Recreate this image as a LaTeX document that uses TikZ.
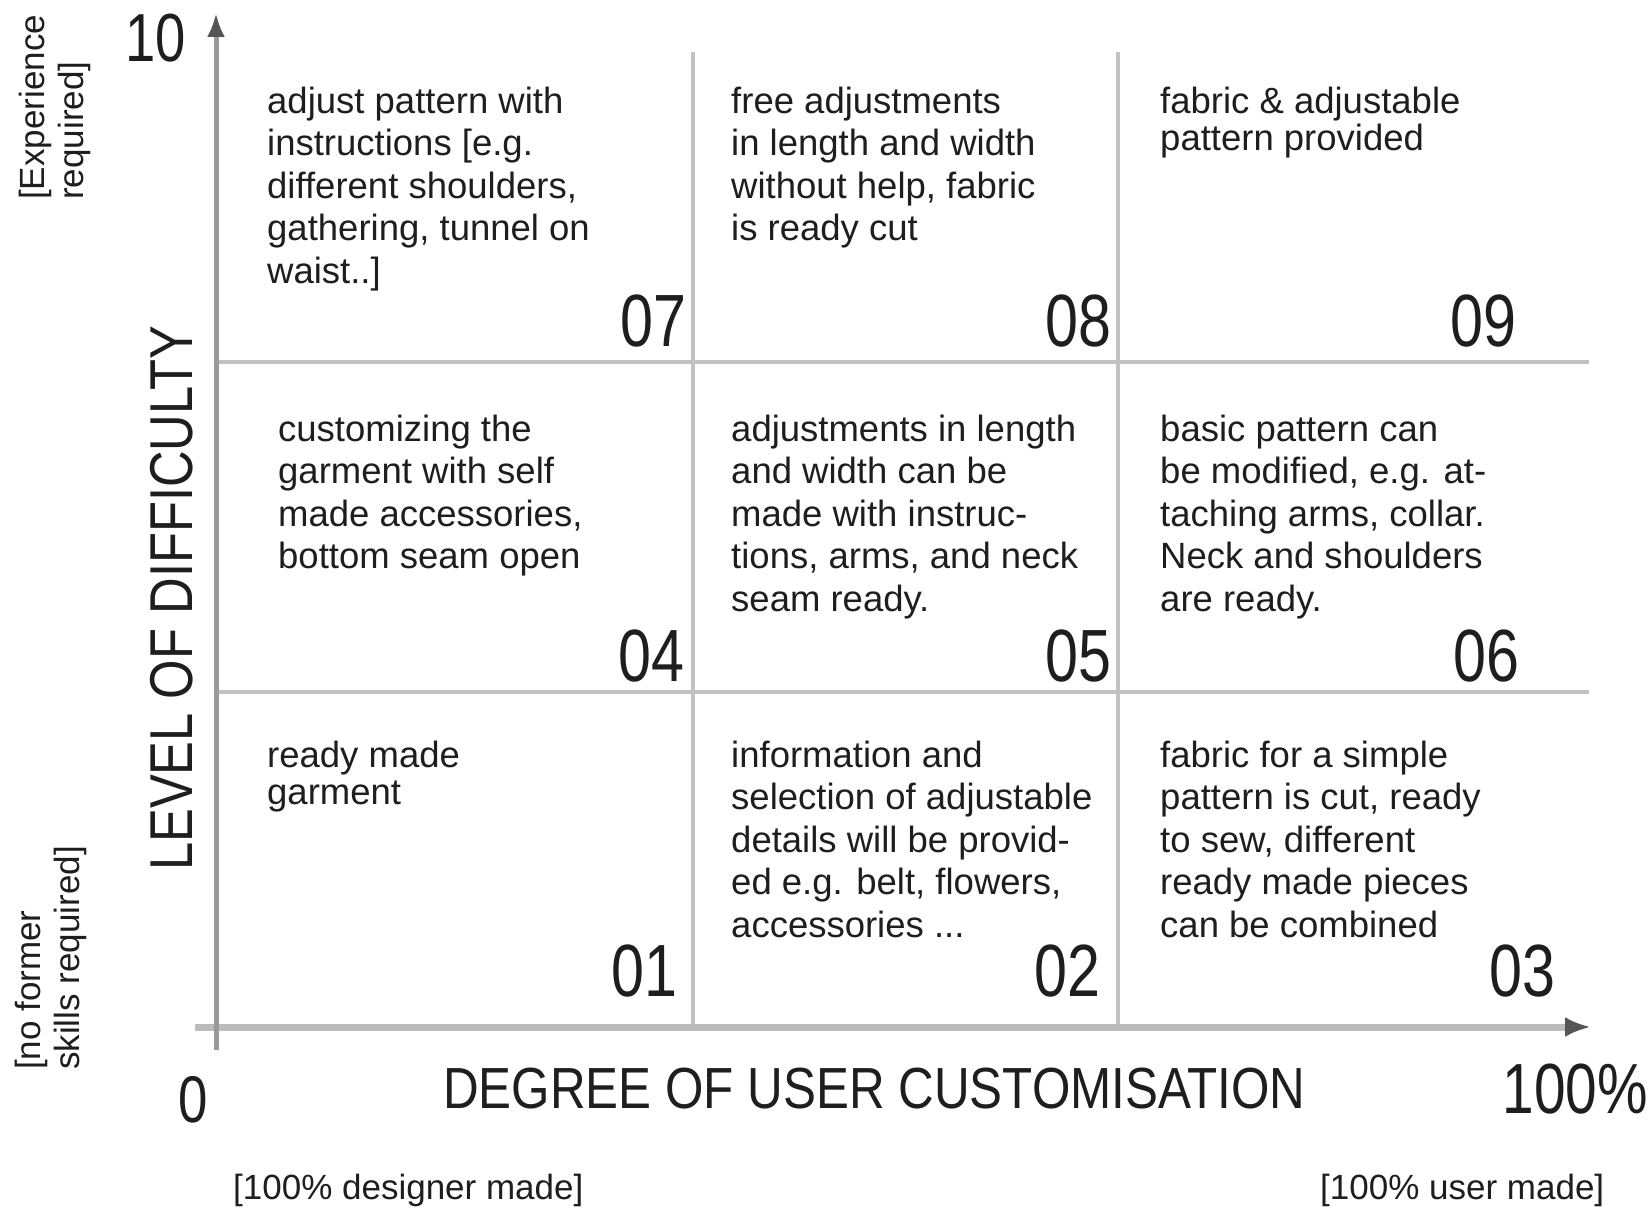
\documentclass[tikz,border=0pt]{standalone}
\usepackage{fontspec}
\setmainfont{Liberation Sans}
\newfontfamily\condfont{Liberation Sans}[FakeStretch=0.8]
\usetikzlibrary{arrows.meta}
\definecolor{ink}{HTML}{1E1E1E}
\definecolor{gridc}{HTML}{C2C2C2}
\definecolor{yaxc}{HTML}{9A9A9A}
\definecolor{xaxc}{HTML}{BBBBBB}
\definecolor{tipc}{HTML}{555555}
\begin{document}
\begin{tikzpicture}[x=1pt,y=-1pt,
  gridline/.style={draw=gridc,line width=4.5pt},
  yaxis/.style={draw=yaxc,line width=5pt,-{Latex[length=24pt,width=18pt,color=tipc]}},
  xaxis/.style={draw=xaxc,line width=7pt,-{Latex[length=26pt,width=20pt,color=tipc]}},
  celltext/.style={anchor=north west,inner sep=0pt,align=left,text=ink,font=\fontsize{36.5}{42.5}\selectfont},
  tighttext/.style={celltext,font=\fontsize{36.5}{37}\selectfont},
  cellnum/.style={anchor=base east,inner sep=0pt,text=ink,font=\condfont\fontsize{74}{74}\selectfont},
  bignum/.style={anchor=base east,inner sep=0pt,text=ink,font=\condfont\fontsize{#1}{#1}\selectfont},
  axtitle/.style={inner sep=0pt,text=ink,font=\condfont\fontsize{#1}{#1}\selectfont},
  sidenote/.style={rotate=90,anchor=north west,inner sep=0pt,align=left,text=ink,font=\fontsize{35}{38.5}\selectfont},
  footnote/.style={anchor=base west,inner sep=0pt,text=ink,font=\fontsize{35}{40}\selectfont}
]
\fill[white] (0,0) rectangle (1652,1209);
\useasboundingbox (0,0) rectangle (1652,1209);

% grid
\coordinate (v1t) at (693,52);  \coordinate (v1b) at (693,1027);
\coordinate (v2t) at (1118,52); \coordinate (v2b) at (1118,1027);
\coordinate (h1l) at (216,362); \coordinate (h1r) at (1589,362);
\coordinate (h2l) at (216,692); \coordinate (h2r) at (1589,692);
\draw[gridline] (v1t) -- (v1b);
\draw[gridline] (v2t) -- (v2b);
\draw[gridline] (h1l) -- (h1r);
\draw[gridline] (h2l) -- (h2r);

% axes
\coordinate (yb) at (216,1050); \coordinate (yt) at (216,13);
\coordinate (xl) at (195,1027); \coordinate (xr) at (1591,1027);
\draw[xaxis] (xl) -- (xr);
\draw[yaxis] (yb) -- (yt);

% axis labels
\node[bignum=68] (ten) at (186,62) {10};
\node[bignum=66] (zero) at (208,1122) {0};
\node[bignum=71] (hundred) at (1648,1113) {100\%};
\node[axtitle=58,anchor=base west] (xtitle) at (443,1108) {\scalebox{1.064}[1]{DEGREE OF USER CUSTOMISATION}};
\node[axtitle=60.5,anchor=base west,rotate=90] (ytitle) at (192,871) {\scalebox{1.047}[1]{LEVEL OF DIFFICULTY}};
\node[sidenote] (exp) at (19,200) {[Experience\\required]};
\node[sidenote] (nof) at (15,1070) {[no former\\skills required]};
\node[footnote] (dm) at (233,1199) {[100\% designer made]};
\node[footnote] (um) at (1320,1199) {[100\% user made]};

% cell texts
\node[celltext] (t7) at (267,85) {\rule{0pt}{28pt}adjust pattern with\\instructions [e.g.\\different shoulders,\\gathering, tunnel on\\waist..]};
\node[celltext] (t8) at (731,85) {\rule{0pt}{28pt}free adjustments\\in length and width\\without help, fabric\\is ready cut};
\node[tighttext] (t9) at (1160,85) {\rule{0pt}{28pt}fabric \& adjustable\\pattern provided};
\node[celltext] (t4) at (278,413) {\rule{0pt}{28pt}customizing the\\garment with self\\made accessories,\\bottom seam open};
\node[celltext] (t5) at (731,413) {\rule{0pt}{28pt}adjustments in length\\and width can be\\made with instruc-\\tions, arms, and neck\\seam ready.};
\node[celltext] (t6) at (1160,413) {\rule{0pt}{28pt}basic pattern can\\be modified, e.g. at-\\taching arms, collar.\\Neck and shoulders\\are ready.};
\node[tighttext] (t1) at (267,739) {\rule{0pt}{28pt}ready made\\garment};
\node[celltext] (t2) at (731,739) {\rule{0pt}{28pt}information and\\selection of adjustable\\details will be provid-\\ed e.g. belt, flowers,\\accessories ...};
\node[celltext] (t3) at (1160,739) {\rule{0pt}{28pt}fabric for a simple\\pattern is cut, ready\\to sew, different\\ready made pieces\\can be combined};

% cell numbers
\node[cellnum] (n7) at (687,346) {07};
\node[cellnum] (n8) at (1112,346) {08};
\node[cellnum] (n9) at (1517,346) {09};
\node[cellnum] (n4) at (685,681) {04};
\node[cellnum] (n5) at (1112,681) {05};
\node[cellnum] (n6) at (1520,681) {06};
\node[cellnum] (n1) at (678,996) {01};
\node[cellnum] (n2) at (1101,996) {02};
\node[cellnum] (n3) at (1556,996) {03};
\end{tikzpicture}
\end{document}
